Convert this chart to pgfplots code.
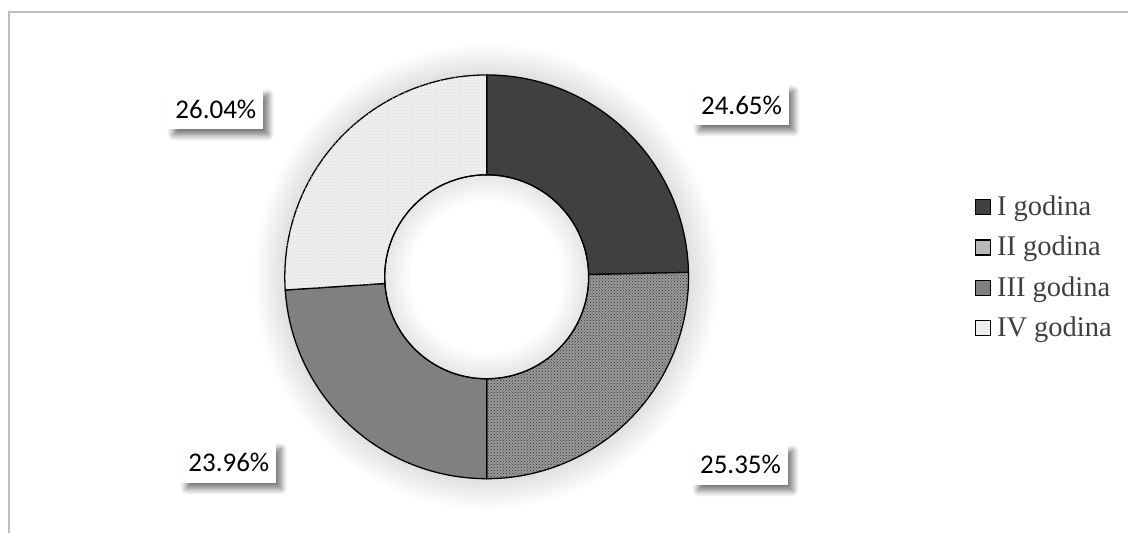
\documentclass[border=0pt]{standalone}
\usepackage{pgfplots}
\pgfplotsset{compat=1.18}
\usepackage{pgfplotstable}
\usepackage{fontspec}
\newfontfamily\lblfont{Carlito}
\newfontfamily\legfont{Liberation Serif}
\usetikzlibrary{patterns,shadows.blur}

\definecolor{framegray}{HTML}{BFBFBF}
\definecolor{legtext}{HTML}{404040}

% segment styles (I, II, III, IV godina)
\tikzset{
  seg0/.style={fill=black!75, draw=black, line width=1.3pt},
  seg1/.style={fill=black!40, draw=black, line width=1.3pt,
               postaction={pattern=crosshatch dots, pattern color=black!80}},
  seg2/.style={fill=black!50, draw=black, line width=1.3pt},
  seg3/.style={fill=black!7, draw=black, line width=1.3pt,
               postaction={pattern=dots, pattern color=black!15}},
}

% shares in percent, clockwise from the top
\pgfplotstableread{
share
24.65
25.35
23.96
26.04
}\pietable

% label boxes: position (px, y up) and value
\pgfplotstableread{
x y share
742 428 24.65
741 68 25.35
229 70 23.96
216 424 26.04
}\labeltable

% one ring segment between cumulative shares #1 and #2
\newcommand\segment[3]{%
  \pgfmathsetmacro\sa{90-3.6*#1}%
  \pgfmathsetmacro\ea{90-3.6*#2}%
  \edef\doseg{\noexpand\fill[#3]
    (axis cs:{487+202*cos(\sa)},{256+202*sin(\sa)})
    arc[start angle=\sa, end angle=\ea, radius=202pt]
    -- (axis cs:{487+102*cos(\ea)},{256+102*sin(\ea)})
    arc[start angle=\ea, end angle=\sa, radius=102pt] -- cycle;}%
  \doseg}

\begin{document}
\begin{tikzpicture}
\begin{axis}[
    x=1pt, y=1pt,
    xmin=0, xmax=1129, ymin=0, ymax=533,
    hide axis, clip=false,
    legend cell align=left,
    legend style={at={(axis cs:975,340)}, anchor=north west,
      draw=none, fill=none, inner sep=0pt, row sep=10pt,
      font=\legfont\fontsize{28.5}{34}\selectfont, text=legtext,
      nodes={inner sep=2pt, text height=20pt, text depth=6.5pt},
      /tikz/every odd column/.append style={column sep=4pt}},
]
\path (axis cs:0,0) rectangle (axis cs:1129,533);
\draw[framegray, line width=1.5pt] (axis cs:9,0) -- (axis cs:9,521) -- (axis cs:1129,521);

% soft glow round the ring
\pgfplotsinvokeforeach{205,208,211,214,217,220,223,226,229,232}{
  \fill[black, opacity=0.011] (axis cs:487,256) circle[radius=#1pt];
}

\def\cuma{0}
\pgfplotsforeachungrouped \i in {0,...,3}{%
  \pgfplotstablegetelem{\i}{share}\of\pietable
  \pgfmathsetmacro\cumb{\cuma+\pgfplotsretval}%
  \segment{\cuma}{\cumb}{seg\i}%
  \let\cuma\cumb
}

% hole with faint inner shadow
\fill[white] (axis cs:487,256) circle[radius=101.3pt];
\pgfplotsinvokeforeach{98,95,92,89,86,83,80,77}{
  \fill[black, opacity=0.012, even odd rule] (axis cs:487,256) circle[radius=101.3pt]
    (axis cs:487,256) circle[radius=#1pt];
}
\draw[black, line width=1.3pt] (axis cs:487,256) circle[radius=102pt];

\addlegendimage{legend image code/.code={\draw[black, line width=1.5pt, fill=black!75] (0pt,-6pt) rectangle (15pt,9pt);}}
\addlegendimage{legend image code/.code={\draw[black, line width=1.5pt, fill=black!28] (0pt,-6pt) rectangle (15pt,9pt);}}
\addlegendimage{legend image code/.code={\draw[black, line width=1.5pt, fill=black!50] (0pt,-6pt) rectangle (15pt,9pt);}}
\addlegendimage{legend image code/.code={\draw[black, line width=1.5pt, fill=black!7] (0pt,-6pt) rectangle (15pt,9pt);}}
\legend{I godina, II godina, III godina, IV godina}

\addplot[forget plot, only marks, mark=*, mark size=0pt,
  mark options={draw=none, fill=none},
  point meta=explicit,
  nodes near coords={\pgfmathprintnumber[fixed, fixed zerofill, precision=2,
    assume math mode=true]{\pgfplotspointmeta}\%},
  nodes near coords align={center},
  every node near coord/.style={anchor=center, fill=white, text=black,
    minimum width=95pt, minimum height=40pt, inner sep=0pt,
    font=\lblfont\fontsize{27}{32}\selectfont,
    blur shadow={shadow xshift=5pt, shadow yshift=-6pt, shadow blur steps=8,
      shadow blur radius=6pt, shadow opacity=55}},
] table[x=x, y=y, meta=share] {\labeltable};
\end{axis}
\end{tikzpicture}
\end{document}
